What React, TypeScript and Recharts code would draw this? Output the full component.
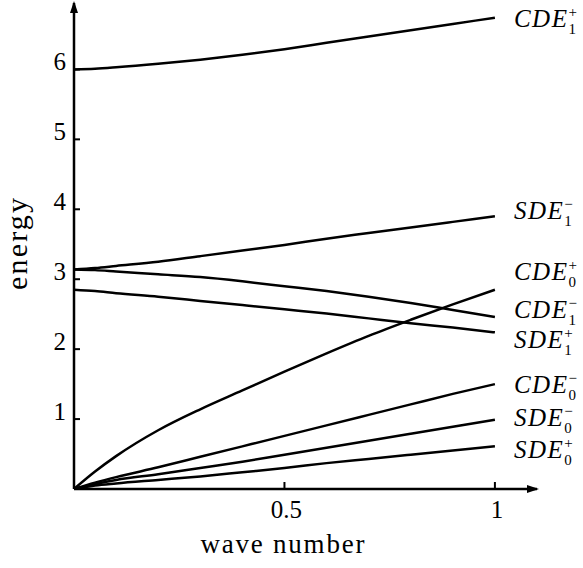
import { LineChart, Line, XAxis, YAxis, ReferenceDot } from "recharts";

// wave number samples and energies
const waveNumber = [0, 0.05, 0.1, 0.2, 0.3, 0.4, 0.5, 0.6, 0.7, 0.8, 0.9, 1];
const cde1Plus = [6.0, 6.01, 6.03, 6.08, 6.14, 6.21, 6.29, 6.38, 6.47, 6.56, 6.65, 6.74];
const sde1Minus = [3.14, 3.16, 3.19, 3.25, 3.33, 3.41, 3.49, 3.58, 3.66, 3.74, 3.82, 3.9];
const cde1Minus = [3.14, 3.13, 3.11, 3.07, 3.03, 2.97, 2.9, 2.83, 2.75, 2.66, 2.56, 2.46];
const sde1Plus = [2.85, 2.83, 2.8, 2.75, 2.69, 2.63, 2.57, 2.51, 2.44, 2.37, 2.31, 2.24];
const cde0Plus = [0, 0.25, 0.47, 0.84, 1.14, 1.41, 1.68, 1.94, 2.19, 2.42, 2.64, 2.85];
const cde0Minus = [0, 0.09, 0.17, 0.31, 0.46, 0.61, 0.76, 0.91, 1.06, 1.21, 1.36, 1.5];
const sde0Minus = [0, 0.07, 0.13, 0.21, 0.3, 0.39, 0.49, 0.59, 0.69, 0.79, 0.89, 0.99];
const sde0Plus = [0, 0.05, 0.08, 0.13, 0.18, 0.24, 0.3, 0.37, 0.43, 0.49, 0.55, 0.61];

const xTicks = [0.5, 1];
const yTicks = [1, 2, 3, 4, 5, 6];
const xMax = 1.1;
const yMax = 6.95;

const series = [
  { key: "cde1Plus", values: cde1Plus, base: "CDE", sup: "+", sub: "1", dy: 9 },
  { key: "sde1Minus", values: sde1Minus, base: "SDE", sup: "\u2212", sub: "1", dy: 3 },
  { key: "cde1Minus", values: cde1Minus, base: "CDE", sup: "\u2212", sub: "1", dy: 1 },
  { key: "sde1Plus", values: sde1Plus, base: "SDE", sup: "+", sub: "1", dy: 16 },
  { key: "cde0Plus", values: cde0Plus, base: "CDE", sup: "+", sub: "0", dy: -10 },
  { key: "cde0Minus", values: cde0Minus, base: "CDE", sup: "\u2212", sub: "0", dy: 9 },
  { key: "sde0Minus", values: sde0Minus, base: "SDE", sup: "\u2212", sub: "0", dy: 6 },
  { key: "sde0Plus", values: sde0Plus, base: "SDE", sup: "+", sub: "0", dy: 12 },
];

const data = waveNumber.map((x, i) => {
  const row: Record<string, number> = { x };
  series.forEach((s) => (row[s.key] = s.values[i]));
  return row;
});

const FONT = "'Liberation Serif', 'DejaVu Serif', serif";

function XTick(props: any) {
  const { x, y, payload } = props;
  return (
    <g>
      <line x1={x} y1={y} x2={x} y2={y - 7} stroke="#000" strokeWidth={2} />
      <text x={x + 2} y={y + 29} textAnchor="middle" fontFamily={FONT} fontSize={25} fill="#000">
        {payload.value}
      </text>
    </g>
  );
}

function YTick(props: any) {
  const { x, y, payload } = props;
  return (
    <g>
      <line x1={x} y1={y} x2={x + 6} y2={y} stroke="#000" strokeWidth={2} />
      <text x={x - 8} y={y + 1} textAnchor="end" fontFamily={FONT} fontSize={25} fill="#000">
        {payload.value}
      </text>
    </g>
  );
}

function makeLabel(s: (typeof series)[number]) {
  return (props: any) => {
    const { x, y, index } = props;
    if (index !== waveNumber.length - 1) return null;
    return (
      <text x={x + 19} y={y + s.dy} fontFamily={FONT} fontSize={25} fill="#000">
        <tspan fontStyle="italic" letterSpacing={1.5}>{s.base}</tspan>
        <tspan fontSize={15} dy={-10}>{s.sup}</tspan>
        <tspan fontSize={15} dx={-8.5} dy={17}>{s.sub}</tspan>
      </text>
    );
  };
}

const arrowRight = (p: any) => (
  <polygon points={`${p.cx + 2},${p.cy} ${p.cx - 10},${p.cy - 4} ${p.cx - 10},${p.cy + 4}`} fill="#000" />
);
const arrowUp = (p: any) => (
  <polygon points={`${p.cx},${p.cy - 2} ${p.cx - 4},${p.cy + 10} ${p.cx + 4},${p.cy + 10}`} fill="#000" />
);

export default function App() {
  return (
    <div style={{ position: "absolute", left: 0, top: 0, width: 583, height: 568, background: "#fff" }}>
      <LineChart width={583} height={568} data={data} margin={{ top: 3, right: 46, bottom: 49, left: 34 }}>
        <XAxis
          dataKey="x"
          type="number"
          domain={[0, xMax]}
          ticks={xTicks}
          tick={<XTick />}
          tickLine={false}
          tickSize={0}
          tickMargin={0}
          height={30}
          axisLine={{ stroke: "#000", strokeWidth: 2.5 }}
          allowDataOverflow
          label={{
            content: (p: any) => (
              <text
                x={p.viewBox.x + (p.viewBox.width * 0.5) / xMax - 2}
                y={p.viewBox.y + 64}
                textAnchor="middle"
                fontFamily={FONT}
                fontSize={27}
                textLength={164}
                lengthAdjust="spacing"
                fill="#000"
              >
                wave number
              </text>
            ),
          }}
        />
        <YAxis
          type="number"
          domain={[0, yMax]}
          ticks={yTicks}
          tick={<YTick />}
          tickLine={false}
          tickSize={0}
          tickMargin={0}
          width={40}
          axisLine={{ stroke: "#000", strokeWidth: 2.5 }}
          allowDataOverflow
          label={{
            content: (p: any) => {
              const cx = 27;
              const cy = p.viewBox.y + p.viewBox.height / 2 - 2;
              return (
                <text
                  x={cx}
                  y={cy}
                  transform={`rotate(-90, ${cx}, ${cy})`}
                  textAnchor="middle"
                  fontFamily={FONT}
                  fontSize={30}
                  textLength={92}
                  lengthAdjust="spacing"
                  fill="#000"
                >
                  energy
                </text>
              );
            },
          }}
        />
        {series.map((s) => (
          <Line
            key={s.key}
            dataKey={s.key}
            type="monotone"
            stroke="#000"
            strokeWidth={2.5}
            dot={false}
            isAnimationActive={false}
            label={makeLabel(s)}
          />
        ))}
        <ReferenceDot x={xMax} y={0} r={0} ifOverflow="visible" shape={arrowRight} />
        <ReferenceDot x={0} y={yMax} r={0} ifOverflow="visible" shape={arrowUp} />
      </LineChart>
    </div>
  );
}
